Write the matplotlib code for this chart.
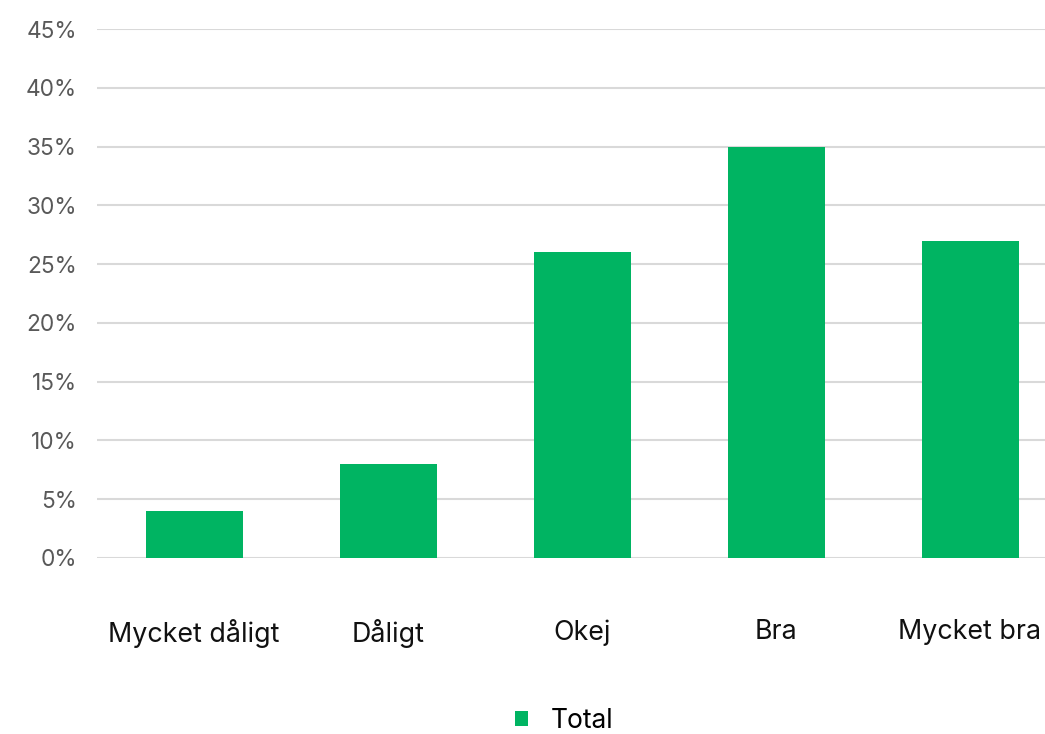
import matplotlib
matplotlib.use("Agg")
import matplotlib.pyplot as plt
from matplotlib.ticker import FuncFormatter, MultipleLocator
from matplotlib.patches import Patch

categories = ["Mycket dåligt", "Dåligt", "Okej", "Bra", "Mycket bra"]
values = [4, 8, 26, 35, 27]
series_name = "Total"

plt.rcParams['font.family'] = ['Inter', 'DejaVu Sans']

fig = plt.figure(figsize=(10.45, 7.34), dpi=100)
ax = fig.add_axes([97/1045, (734-558)/734, 970/1045, 529/734])

color = "#00B462"
x = list(range(len(categories)))
ax.bar(x, values, width=0.5, color=color, zorder=3)

ax.set_xlim(-0.5, len(categories) - 0.5)
ax.set_ylim(0, 45)
ax.yaxis.set_major_locator(MultipleLocator(5))
ax.yaxis.set_major_formatter(FuncFormatter(lambda v, p: f"{int(round(v))}%"))
ax.grid(axis='y', color='#d9d9d9', linewidth=1.5, zorder=0)
for s in ax.spines.values():
    s.set_visible(False)
ax.tick_params(axis='y', length=0, pad=14.5, labelsize=16.3, labelcolor='#595959')
ax.tick_params(axis='x', length=0, pad=44, labelsize=19.3, labelcolor='#111111')
ax.set_xticks(x)
ax.set_xticklabels(categories)

handles = [Patch(facecolor=color, edgecolor='none', label=series_name)]
fig.legend(handles=handles, loc='center', bbox_to_anchor=(564/1045, 1 - 721/734),
           frameon=False, fontsize=19, handlelength=0.5, handleheight=0.5,
           handletextpad=0.85, borderpad=0.1)

fig.savefig("out.png", dpi=100)
